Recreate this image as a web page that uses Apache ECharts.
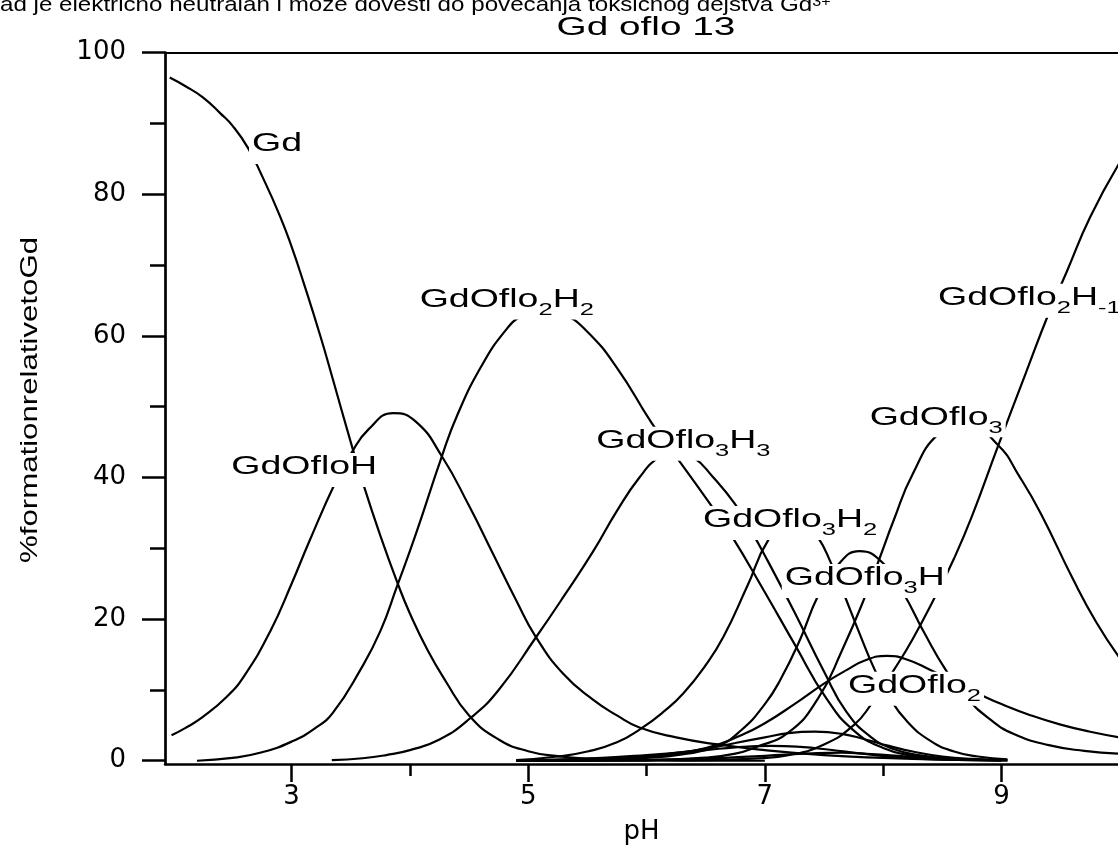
<!DOCTYPE html>
<html><head><meta charset="utf-8">
<script src="https://cdn.jsdelivr.net/npm/echarts@6/dist/echarts.min.js"></script>
<style>html,body{margin:0;padding:0;background:#fff}#c{width:1118px;height:846px}</style>
</head><body><div id="c"></div>
<script>
// ---- data: [pH, % formation] ----
const gd = [[1.97,96.5],[2.1,95.3],[2.25,93.7],[2.4,91.4],[2.5,89.7],[2.63,86.6],[2.75,82.6],[2.9,77.0],[3.0,72.6],[3.1,67.6],[3.25,59.6],[3.35,53.8],[3.5,45.0],[3.6,39.4],[3.75,31.8],[3.9,24.9],[4.0,20.8],[4.15,15.6],[4.3,11.3],[4.5,6.4],[4.75,3.0],[5.0,1.35],[5.25,0.65],[5.5,0.3],[6.0,0.08],[6.5,0.02],[7.0,0.0]];
const gdOfloH = [[1.985,3.6],[2.1,4.6],[2.25,6.2],[2.45,9.0],[2.6,12.0],[2.82,18.3],[3.0,25.0],[3.15,31.0],[3.37,39.3],[3.5,43.3],[3.65,46.8],[3.86,49.1],[4.05,47.9],[4.27,43.0],[4.5,36.0],[4.7,29.3],[4.9,22.6],[5.06,17.6],[5.3,12.2],[5.55,8.6],[5.75,6.4],[5.94,4.7],[6.25,3.3],[6.6,2.3],[7.0,1.5],[7.5,0.8],[8.0,0.4],[8.5,0.15],[9.0,0.05]];
const gdOflo2H2 = [[2.2,0.0],[2.5,0.4],[2.75,1.2],[3.0,2.7],[3.2,4.6],[3.35,6.8],[3.58,12.8],[3.75,18.3],[3.89,24.6],[4.05,32.0],[4.27,43.0],[4.4,48.8],[4.6,55.6],[4.8,60.6],[4.95,62.9],[5.12,63.9],[5.3,63.1],[5.5,60.6],[5.75,55.5],[6.04,47.8],[6.23,43.4],[6.51,36.9],[6.71,32.0],[7.0,23.8],[7.25,16.5],[7.52,8.8],[7.75,4.3],[8.0,1.8],[8.25,0.7],[8.5,0.25],[9.0,0.05]];
const gdOflo3H3 = [[3.34,0.1],[3.6,0.35],[3.8,0.8],[4.0,1.5],[4.25,3.0],[4.51,6.0],[4.75,10.0],[5.06,17.3],[5.3,23.2],[5.55,29.6],[5.75,35.3],[5.94,40.0],[6.1,42.8],[6.25,43.8],[6.4,42.8],[6.55,40.3],[6.75,36.2],[6.88,32.6],[7.0,29.0],[7.25,21.0],[7.5,12.6],[7.69,6.9],[7.9,3.3],[8.1,1.6],[8.3,0.8],[8.6,0.3],[9.0,0.05]];
const gdOflo3H2 = [[4.9,0.1],[5.25,0.6],[5.5,1.3],[5.75,2.6],[5.95,4.5],[6.15,7.0],[6.31,9.5],[6.5,13.5],[6.65,17.5],[6.85,24.6],[7.03,31.2],[7.2,33.9],[7.33,33.6],[7.45,31.5],[7.56,27.9],[7.66,23.9],[7.8,18.0],[7.93,12.8],[8.05,9.0],[8.2,5.6],[8.4,2.8],[8.6,1.3],[8.8,0.6],[9.05,0.2]];
const gdOflo3H = [[4.9,0.02],[5.5,0.1],[6.0,0.4],[6.3,0.9],[6.59,2.0],[6.8,4.3],[7.0,8.0],[7.13,11.4],[7.3,17.2],[7.45,23.3],[7.6,27.3],[7.8,29.6],[8.0,27.9],[8.17,23.7],[8.35,18.0],[8.53,12.8],[8.7,9.0],[8.9,5.9],[9.1,3.8],[9.4,2.2],[9.7,1.4],[10.0,1.0]];
const gdOflo3 = [[4.9,0.0],[5.5,0.02],[6.0,0.1],[6.5,0.45],[6.75,1.0],[6.92,1.9],[7.2,4.0],[7.45,8.8],[7.65,15.5],[7.86,23.7],[7.97,28.6],[8.09,34.0],[8.25,40.5],[8.47,46.2],[8.7,47.6],[8.97,44.6],[9.15,40.2],[9.33,35.0],[9.6,25.8],[9.8,19.6],[10.0,14.5]];
const gdOflo2Hm1 = [[4.9,0.0],[6.0,0.03],[6.5,0.1],[6.9,0.3],[7.2,0.8],[7.5,2.3],[7.75,5.0],[7.9,8.0],[8.09,12.8],[8.25,17.2],[8.45,23.5],[8.6,28.6],[8.75,34.5],[8.97,44.4],[9.2,54.5],[9.4,63.2],[9.55,69.0],[9.75,76.8],[10.0,84.5]];
const gdOflo2 = [[4.9,0.02],[5.5,0.1],[6.0,0.5],[6.5,1.8],[6.8,3.6],[7.0,5.3],[7.25,8.0],[7.5,10.9],[7.69,12.8],[7.85,14.2],[8.03,14.8],[8.2,14.3],[8.4,12.8],[8.6,11.1],[8.8,9.5],[9.0,8.0],[9.25,6.4],[9.5,5.1],[9.75,4.1],[10.0,3.3]];
const minorA = [[4.9,0.03],[5.5,0.25],[6.0,0.7],[6.25,1.1],[6.5,1.7],[6.75,2.5],[7.0,3.3],[7.2,3.9],[7.42,4.1],[7.65,3.8],[7.85,3.0],[8.05,2.1],[8.25,1.3],[8.5,0.6],[8.75,0.25],[9.05,0.08]];
const minorB = [[4.9,0.03],[5.5,0.3],[6.0,0.8],[6.5,1.5],[6.75,1.9],[7.05,2.1],[7.3,1.95],[7.55,1.55],[7.8,1.05],[8.05,0.6],[8.5,0.15],[9.05,0.04]];
const minorC = [[4.9,0.0],[5.5,0.04],[6.0,0.1],[6.5,0.3],[7.0,0.7],[7.4,1.05],[7.65,1.15],[7.9,0.95],[8.2,0.6],[8.5,0.3],[9.05,0.06]];
const curves = [gd, gdOfloH, gdOflo2H2, gdOflo3H3, gdOflo3H2, gdOflo3H, gdOflo3, gdOflo2Hm1, gdOflo2, minorA, minorB, minorC];

const xTicks = [3, 5, 7, 9];
const xMinorTicks = [4, 6, 8];
const yTicks = [0, 20, 40, 60, 80, 100];
const yMinorTicks = [10, 30, 50, 70, 90];

// species labels: text and the (pH, %) point of their left edge / mid-height
const labelText = ['Gd', 'GdOfloH', 'GdOflo{s|2}H{s|2}', 'GdOflo{s|3}H{s|3}', 'GdOflo{s|3}H{s|2}', 'GdOflo{s|3}H', 'GdOflo{s|3}', 'GdOflo{s|2}', 'GdOflo{s|2}H{s|-1}'];
const labelPH  = [2.64, 2.465, 4.057, 5.55, 6.452, 7.143, 7.861, 7.678, 8.438];
const labelPct = [87.1, 41.5, 65.15, 45.2, 34.0, 25.8, 48.5, 10.6, 65.4];

const titleText = 'Gd oflo 13';
const yName = '%formationrelativetoGd';
const topText = 'ad je električno neutralan i može dovesti do povećanja toksičnog dejstva Gd{sup|3+}';

// ---- chart ----
const FONT = '"Liberation Sans", Arial, sans-serif';
const X0 = 1.93, X1 = 9.985, Y0 = -0.46, Y1 = 100;
const chart = echarts.init(document.getElementById('c'), null, {renderer: 'canvas'});

const lineSeries = curves.map((pts, k) => ({
  type: 'line',
  name: 's' + k,
  data: pts,
  smooth: 0.5,
  showSymbol: false,
  silent: true,
  lineStyle: {color: '#000', width: 2.2},
  z: 2
}));

const labelSeries = {
  type: 'custom',
  silent: true,
  z: 10,
  clip: false,
  data: labelPH.map((x, i) => [x, labelPct[i]]),
  renderItem: function (params, api) {
    const p = api.coord([api.value(0), api.value(1)]);
    return {
      type: 'text',
      x: p[0],
      y: p[1] - 12 - 2,
      scaleX: 1.5,
      z2: 100,
      style: {
        text: labelText[params.dataIndex],
        fontSize: 25,
        fontFamily: FONT,
        fill: '#000',
        align: 'left',
        verticalAlign: 'top',
        backgroundColor: '#fff',
        padding: [2, 2, 7, 2],
        rich: {
          s: {fontSize: 17, fontFamily: FONT, fill: '#000', lineHeight: 25, padding: [14, 0, 0, 0], verticalAlign: 'top'}
        }
      }
    };
  }
};

const axisCommon = {type: 'value', min: X0, max: X1, splitLine: {show: false}};
chart.setOption({
  animation: false,
  backgroundColor: '#fff',
  grid: {left: 165, right: 0, top: 52.7, bottom: 82, containLabel: false, outerBoundsMode: 'none'},
  xAxis: [
    Object.assign({}, axisCommon, {
      position: 'bottom',
      axisLine: {show: true, onZero: false, lineStyle: {color: '#000', width: 2.5}},
      axisTick: {show: true, customValues: xTicks, length: 18, lineStyle: {color: '#000', width: 2.5}},
      axisLabel: {show: true, customValues: xTicks, margin: 20, fontSize: 26, fontFamily: 'DejaVu Sans', color: '#000'},
      name: 'pH', nameLocation: 'middle', nameGap: 55,
      nameTextStyle: {fontSize: 26, fontFamily: 'DejaVu Sans', color: '#000', verticalAlign: 'top'}
    }),
    Object.assign({}, axisCommon, {
      position: 'bottom',
      axisLine: {show: false, onZero: false},
      axisTick: {show: true, customValues: xMinorTicks, length: 12, lineStyle: {color: '#000', width: 2.5}},
      axisLabel: {show: false}
    }),
    Object.assign({}, axisCommon, {
      position: 'top',
      axisLine: {show: true, onZero: false, lineStyle: {color: '#000', width: 2}},
      axisTick: {show: false},
      axisLabel: {show: false}
    })
  ],
  yAxis: [
    {type: 'value', min: Y0, max: Y1, position: 'left', splitLine: {show: false},
      axisLine: {show: true, onZero: false, lineStyle: {color: '#000', width: 2.7}},
      axisTick: {show: true, customValues: yTicks, length: 23, lineStyle: {color: '#000', width: 2.5}},
      axisLabel: {show: true, customValues: yTicks, margin: 39, fontSize: 26, fontFamily: 'DejaVu Sans', color: '#000'}
    },
    {type: 'value', min: Y0, max: Y1, position: 'left', splitLine: {show: false},
      axisLine: {show: false, onZero: false},
      axisTick: {show: true, customValues: yMinorTicks, length: 15, lineStyle: {color: '#000', width: 2.5}},
      axisLabel: {show: false}
    }
  ],
  graphic: [
    {type: 'text', x: 646, y: 28, scaleX: 1.55, style: {text: titleText, font: '25px ' + FONT, fill: '#000', align: 'center', verticalAlign: 'middle'}},
    {type: 'text', x: 30, y: 400, rotation: Math.PI / 2, scaleX: 1.3, style: {text: yName, font: '24px ' + FONT, fill: '#000', align: 'center', verticalAlign: 'middle'}},
    {type: 'text', x: 0, y: 16, scaleX: 1.15, style: {text: topText, font: '21px ' + FONT, fill: '#000', align: 'left', verticalAlign: 'bottom',
      rich: {sup: {fontSize: 14, fontFamily: FONT, fill: '#000', verticalAlign: 'top', lineHeight: 21}}}}
  ],
  series: lineSeries.concat([labelSeries])
});
</script></body></html>
